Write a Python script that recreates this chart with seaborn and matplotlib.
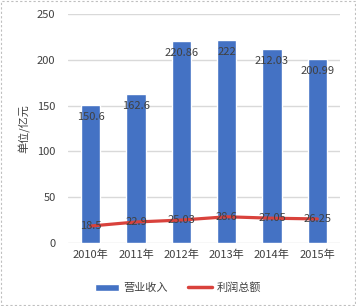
import matplotlib.pyplot as plt
import seaborn as sns
import pandas as pd
from matplotlib.patches import Rectangle, Patch
from matplotlib.lines import Line2D

years = ['2010年', '2011年', '2012年', '2013年', '2014年', '2015年']
revenue = [150.6, 162.6, 220.86, 222, 212.03, 200.99]
profit = [18.5, 22.9, 25.03, 28.6, 27.05, 26.25]

df = pd.DataFrame({'year': years, 'revenue': revenue, 'profit': profit})

sns.set_style('white')
plt.rcParams['font.family'] = ['Noto Sans CJK SC', 'DejaVu Sans']

fig = plt.figure(figsize=(3.56, 3.06), dpi=100)
ax = fig.add_axes([0.191, 0.206, 0.764, 0.748])

bar_color = '#4472c4'
line_color = '#d9423c'
text_color = '#404040'

sns.barplot(data=df, x='year', y='revenue', color=bar_color, width=0.42,
            saturation=1, ax=ax, zorder=2)
sns.pointplot(data=df, x='year', y='profit', color=line_color, markersize=0,
              linewidth=2.3, ax=ax, zorder=3)

# data labels
for i, v in enumerate(revenue):
    ax.text(i, v - 13, f'{v:g}', ha='center', va='center', fontsize=8, color=text_color, zorder=4)
for i, v in enumerate(profit):
    ax.text(i, v, f'{v:g}', ha='center', va='center', fontsize=8, color=text_color, zorder=4)

ax.set_ylim(0, 250)
ax.set_yticks([0, 50, 100, 150, 200, 250])
ax.set_xlim(-0.5, 5.5)
ax.yaxis.grid(True, color='#d9d9d9', linewidth=1)
ax.set_axisbelow(True)
for s in ax.spines.values():
    s.set_visible(False)
ax.tick_params(axis='y', length=0, labelsize=8, labelcolor=text_color, pad=9)
ax.tick_params(axis='x', length=0, labelsize=8, labelcolor=text_color, pad=5)
ax.set_xlabel('')
ax.set_ylabel('单位/亿元', fontsize=8, color=text_color, labelpad=5)

handles = [Patch(facecolor=bar_color, label='营业收入'),
           Line2D([0], [0], color=line_color, linewidth=2.5, label='利润总额')]
fig.legend(handles=handles, loc='center', bbox_to_anchor=(0.50, 0.06), ncol=2,
           frameon=False, fontsize=8, handlelength=2.2, handleheight=0.6,
           handletextpad=0.4, columnspacing=1.8, labelcolor=text_color)

fig.patches.append(Rectangle((0.003, 0.003), 0.994, 0.994, transform=fig.transFigure,
                             fill=False, edgecolor='#bfbfbf', linestyle=(0, (2, 2)),
                             linewidth=0.8))

plt.savefig('out.png', dpi=100)
plt.close()
